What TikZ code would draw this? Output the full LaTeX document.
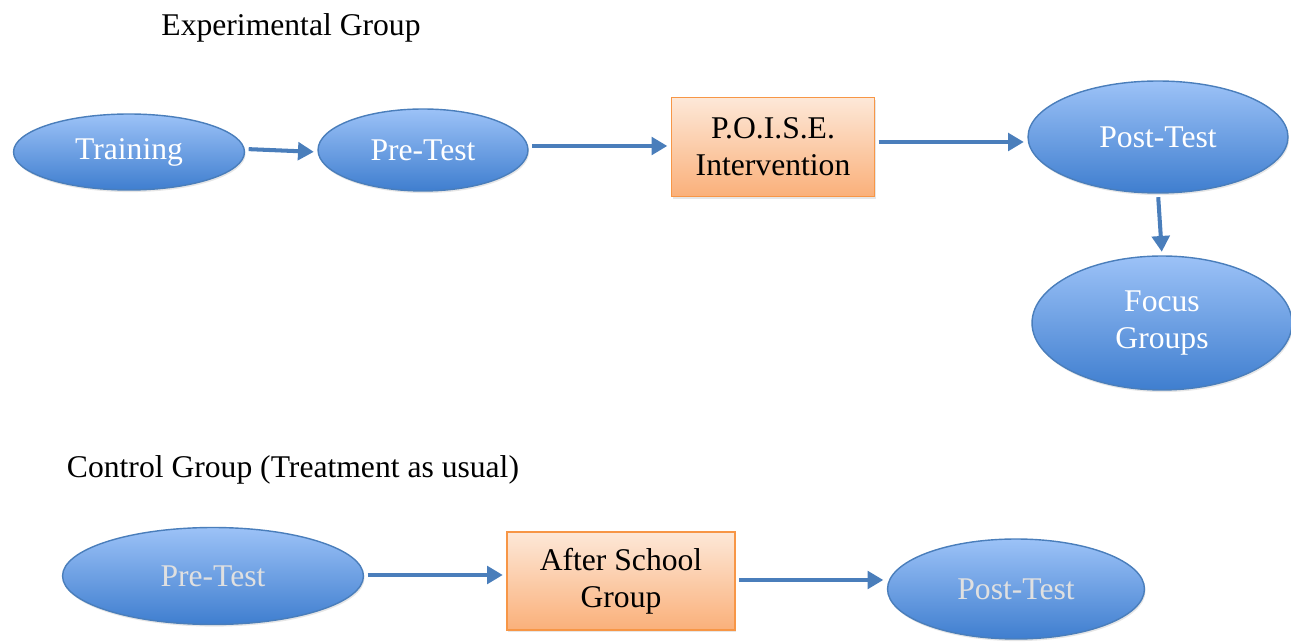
\documentclass[tikz,border=0pt]{standalone}
\usepackage{fontspec}
\setmainfont{Liberation Serif}
\usepackage{tikz}
\usetikzlibrary{shapes, arrows.meta, shadows}
\definecolor{ovalTop}{HTML}{9CC2F7}
\definecolor{ovalBot}{HTML}{3F7ECF}
\definecolor{ovalLine}{HTML}{4A7EBB}
\definecolor{boxTop}{HTML}{FDE8D8}
\definecolor{boxBot}{HTML}{FAB07A}
\definecolor{boxLine}{HTML}{F79646}
\definecolor{arrowBlue}{HTML}{4A7EBB}

\begin{document}
\begin{tikzpicture}[x=0.02cm,y=-0.02cm,
  txt/.style={font=\fontsize{18}{21}\selectfont},
  oval/.style={txt, ellipse, draw=ovalLine, line width=0.8pt, top color=ovalTop, bottom color=ovalBot,
    text=white, align=center, inner sep=0pt,
    drop shadow={opacity=0.2, shadow xshift=0.6pt, shadow yshift=-1.2pt}},
  oval2/.style={oval, text=white!88!black},
  stage/.style={txt, rectangle, draw=boxLine, line width=0.8pt, top color=boxTop, bottom color=boxBot,
    align=center, inner sep=0pt,
    drop shadow={opacity=0.2, shadow xshift=0.6pt, shadow yshift=-1.2pt}},
  flow/.style={draw=arrowBlue, line width=2.3pt, -{Triangle[length=9pt,width=10pt]}, shorten <=2pt, shorten >=2pt}]
  \useasboundingbox (0,0) rectangle (1291,644);

  % experimental group
  \node[txt] (expTitle) at (291,28) {Experimental Group};
  \node[oval, minimum width=4.62cm, minimum height=1.52cm] (train) at (129,152) {Training};
  \node[oval, minimum width=4.2cm, minimum height=1.64cm] (pre) at (423,150) {Pre-Test};
  \node[stage, minimum width=4.06cm, minimum height=1.98cm] (poise) at (773,147) {P.O.I.S.E.\\Intervention};
  \node[oval, minimum width=5.2cm, minimum height=2.24cm] (post) at (1158,137) {Post-Test};
  \node[oval, minimum width=5.2cm, minimum height=2.68cm] (focus) at (1162,323) {Focus\\Groups};

  \draw[flow] ([yshift=0.06cm]train.east) -- ([yshift=-0.04cm]pre.west);
  \draw[flow] (pre.east |- 0,146) -- (poise.west |- 0,146);
  \draw[flow] (poise.east |- 0,142) -- (post.west |- 0,142);
  \draw[flow] (post.south) -- (focus.north);

  % control group
  \node[txt] (ctrlTitle) at (293,470) {Control Group (Treatment as usual)};
  \node[oval2, minimum width=6.02cm, minimum height=1.94cm] (cpre) at (213,576) {Pre-Test};
  \node[stage, minimum width=4.56cm, minimum height=1.96cm] (after) at (621,581) {After School\\Group};
  \node[oval2, minimum width=5.14cm, minimum height=2.0cm] (cpost) at (1016,589) {Post-Test};

  \draw[flow] (cpre.east |- 0,575) -- (after.west |- 0,575);
  \draw[flow] (after.east |- 0,580) -- (cpost.west |- 0,580);
\end{tikzpicture}
\end{document}
